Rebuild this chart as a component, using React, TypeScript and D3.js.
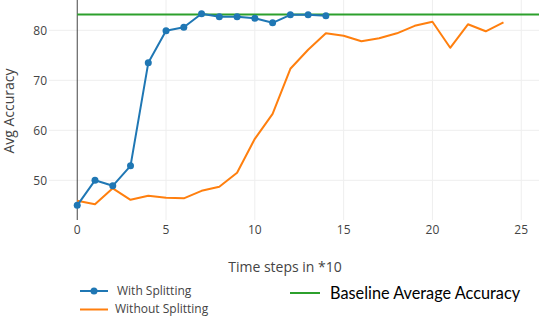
import React from 'react'
import * as d3 from 'd3'

const steps = d3.range(0, 25)
const withSplitting = [45.0, 50.0, 48.9, 52.9, 73.5, 79.9, 80.6, 83.3, 82.7, 82.7, 82.4, 81.5, 83.1, 83.1, 82.9]
const withoutSplitting = [
  45.9, 45.2, 48.4, 46.1, 46.9, 46.5, 46.4, 47.9, 48.7, 51.5, 58.3, 63.3, 72.3, 76.1, 79.4,
  78.9, 77.8, 78.4, 79.4, 80.9, 81.7, 76.5, 81.2, 79.8, 81.6
]
const baseline = 83.15
const xTicks = [0, 5, 10, 15, 20, 25]
const yTicks = [50, 60, 70, 80]

const W = 539
const H = 316
const plot = { left: 49, right: 539, top: 0, bottom: 220 }
const font = '"Open Sans", sans-serif'

const App = () => {
  const x = d3.scaleLinear().domain([-1.59, 26.0]).range([plot.left, plot.right])
  const y = d3.scaleLinear().domain([42.06, 86.06]).range([plot.bottom, plot.top])

  const line = d3
    .line<number>()
    .x((d, i) => x(steps[i]))
    .y(d => y(d))

  return (
    <svg width={W} height={H} style={{ position: 'absolute', left: 0, top: 0 }}>
      <rect width={W} height={H} fill="#fff" />
      {/* grid */}
      {yTicks.map(t => (
        <line key={'gy' + t} x1={plot.left} x2={plot.right} y1={y(t)} y2={y(t)} stroke="#eee" />
      ))}
      {xTicks.filter(t => t !== 0).map(t => (
        <line key={'gx' + t} x1={x(t)} x2={x(t)} y1={plot.top} y2={plot.bottom} stroke="#eee" />
      ))}
      {/* zero line */}
      <line x1={x(0)} x2={x(0)} y1={plot.top} y2={plot.bottom} stroke="#444" strokeWidth={1} />
      {/* tick labels */}
      {yTicks.map(t => (
        <text key={'ty' + t} x={plot.left - 2} y={y(t)} dy="0.35em" textAnchor="end" fontFamily={font} fontSize={12} fill="#444">
          {t}
        </text>
      ))}
      {xTicks.map(t => (
        <text key={'tx' + t} x={x(t)} y={234} textAnchor="middle" fontFamily={font} fontSize={12} fill="#444">
          {t}
        </text>
      ))}
      {/* baseline */}
      <line x1={x(0)} x2={plot.right} y1={y(baseline)} y2={y(baseline)} stroke="#2ca02c" strokeWidth={2} />
      {/* series */}
      <path d={line(withoutSplitting) ?? ''} fill="none" stroke="#ff7f0e" strokeWidth={2} strokeLinejoin="round" />
      <path d={line(withSplitting) ?? ''} fill="none" stroke="#1f77b4" strokeWidth={2} strokeLinejoin="round" />
      {withSplitting.map((d, i) => (
        <circle key={'p' + i} cx={x(steps[i])} cy={y(d)} r={3.5} fill="#1f77b4" />
      ))}
      {/* axis titles */}
      <text x={285} y={272} textAnchor="middle" fontFamily={font} fontSize={14} fill="#444">
        Time steps in *10
      </text>
      <text transform={`translate(13.5,111) rotate(-90)`} textAnchor="middle" fontFamily={font} fontSize={14} fill="#444">
        Avg Accuracy
      </text>
      {/* legend */}
      <line x1={80} x2={108} y1={291} y2={291} stroke="#1f77b4" strokeWidth={2} />
      <circle cx={94} cy={291} r={3.5} fill="#1f77b4" />
      <text x={117} y={295} fontFamily={font} fontSize={12} fill="#444">With Splitting</text>
      <line x1={80} x2={108} y1={309.5} y2={309.5} stroke="#ff7f0e" strokeWidth={2} />
      <text x={115} y={313} fontFamily={font} fontSize={12} fill="#444">Without Splitting</text>
      <line x1={290} x2={320} y1={293} y2={293} stroke="#2ca02c" strokeWidth={2} />
      <text x={330} y={298.5} fontFamily="Lato, sans-serif" fontSize={16.3} fill="#000">Baseline Average Accuracy</text>
    </svg>
  )
}

export default App
